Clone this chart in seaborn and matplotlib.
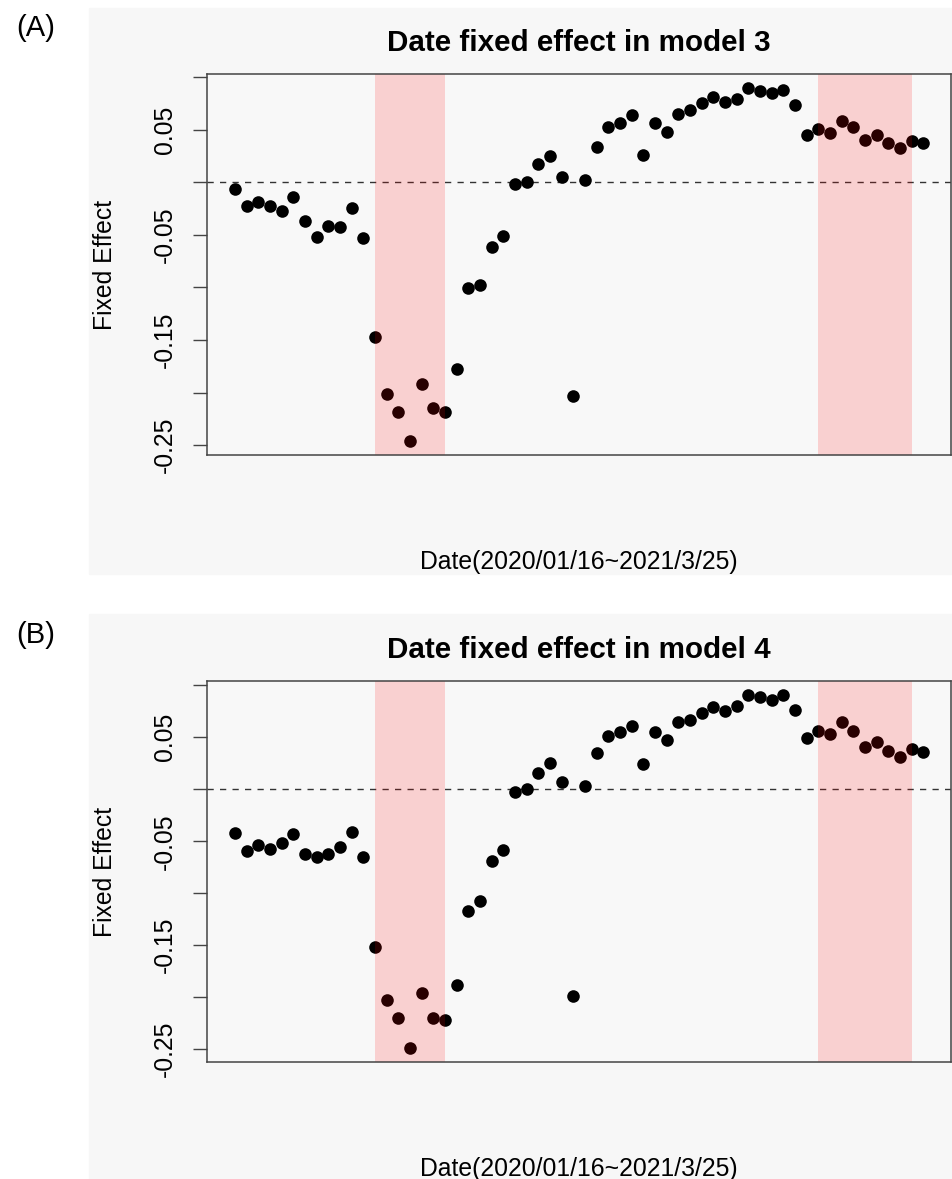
import pandas as pd
import matplotlib
matplotlib.use("Agg")
import matplotlib.pyplot as plt
import seaborn as sns
from matplotlib.patches import Rectangle

# weekly date fixed effects
week = list(range(1, 61))
effect_model3 = [
    -0.0063, -0.0231, -0.0184, -0.0222, -0.0272, -0.0139, -0.0368, -0.0523, -0.0421, -0.0425,
    -0.0241, -0.0526, -0.1467, -0.2018, -0.2183, -0.2459, -0.1917, -0.2151, -0.2183, -0.1774,
    -0.1008, -0.0979, -0.0618, -0.0507, -0.0013, 0.0000, 0.0171, 0.0250, 0.0048, -0.2037,
    0.0019, 0.0339, 0.0523, 0.0567, 0.0634, 0.0260, 0.0567, 0.0478, 0.0646, 0.0684,
    0.0748, 0.0811, 0.0760, 0.0786, 0.0894, 0.0871, 0.0846, 0.0878, 0.0735, 0.0447,
    0.0510, 0.0466, 0.0577, 0.0523, 0.0402, 0.0450, 0.0371, 0.0323, 0.0393, 0.0371,
]
effect_model4 = [
    -0.0421, -0.0594, -0.0537, -0.0578, -0.0521, -0.0434, -0.0623, -0.0652, -0.0620, -0.0553,
    -0.0408, -0.0649, -0.1520, -0.2031, -0.2195, -0.2487, -0.1960, -0.2201, -0.2217, -0.1886,
    -0.1170, -0.1076, -0.0688, -0.0582, -0.0026, 0.0000, 0.0154, 0.0251, 0.0067, -0.1992,
    0.0032, 0.0347, 0.0517, 0.0550, 0.0607, 0.0241, 0.0553, 0.0472, 0.0643, 0.0668,
    0.0733, 0.0790, 0.0749, 0.0797, 0.0906, 0.0887, 0.0861, 0.0906, 0.0765, 0.0492,
    0.0562, 0.0533, 0.0643, 0.0562, 0.0405, 0.0453, 0.0370, 0.0315, 0.0386, 0.0360,
]
titles = ["Date fixed effect in model 3", "Date fixed effect in model 4"]
panel_tags = ["(A)", "(B)"]
x_label = "Date(2020/01/16~2021/3/25)"
y_label = "Fixed Effect"
y_ticks = [0.10, 0.05, 0.0, -0.05, -0.10, -0.15, -0.20, -0.25]
y_tick_labels = ["", "0.05", "", "-0.05", "", "-0.15", "", "-0.25"]
shade_spans = [(13, 19), (51, 59)]

sns.set_theme(style="white")
plt.rcParams["font.family"] = ["Liberation Sans", "DejaVu Sans"]
plt.rcParams["text.color"] = "black"
plt.rcParams["axes.labelcolor"] = "black"

W, H = 953, 1179
fig = plt.figure(figsize=(W / 100, H / 100), dpi=100, facecolor="white")

# grey panel backgrounds (R device look)
for top, bottom in [(8, 574.5), (614, 1179)]:
    fig.patches.append(Rectangle((89 / W, 1 - bottom / H), (W - 89) / W, (bottom - top) / H,
                                 transform=fig.transFigure, color="#f7f7f7", zorder=-10))

base = 17.8
panels = [(74, effect_model3), (681, effect_model4)]
for i, (top, values) in enumerate(panels):
    ax = fig.add_axes([207.5 / W, 1 - (top + 381) / H, 743.5 / W, 381 / H])
    ax.set_facecolor("#f8f8f8")
    df = pd.DataFrame({"week": week, "effect": values})

    ax.axhline(0, color="#333333", lw=1.0, ls=(0, (4.5, 4.5)), zorder=1)
    sns.scatterplot(data=df, x="week", y="effect", color="black", s=82,
                    linewidth=0, ax=ax, zorder=2)
    for lo, hi in shade_spans:
        ax.axvspan(lo, hi, color="#ff0000", alpha=0.16, lw=0, zorder=3)

    xr = max(week) - min(week)
    ax.set_xlim(min(week) - 0.04 * xr, max(week) + 0.04 * xr)
    yr = max(values) - min(values)
    ax.set_ylim(min(values) - 0.04 * yr, max(values) + 0.04 * yr)

    ax.set_xticks([])
    ax.set_yticks(y_ticks)
    ax.set_yticklabels(y_tick_labels, rotation=90, va="center")
    ax.tick_params(axis="y", left=True, length=10, width=1.0, color="#444444",
                   pad=12, labelsize=base, labelcolor="black")
    for sp in ax.spines.values():
        sp.set_visible(True)
        sp.set_color("#444444")
        sp.set_linewidth(1.1)
        sp.set_zorder(4)

    ax.set_title(titles[i], fontsize=base * 1.2, fontweight="bold", pad=16.6, color="black")
    ax.set_xlabel(x_label, fontsize=base)
    ax.xaxis.set_label_coords(0.5, -0.299)
    ax.xaxis.label.set_va("baseline")
    ax.set_ylabel(y_label, fontsize=base)
    ax.yaxis.set_label_coords(-0.138, 0.5)
    ax.yaxis.label.set_va("center")

    tag_y = 28.5 if i == 0 else 635
    fig.text(16 / W, 1 - tag_y / H, panel_tags[i], fontsize=21, va="center", ha="left")

fig.savefig("out.png", dpi=100, facecolor="white")
